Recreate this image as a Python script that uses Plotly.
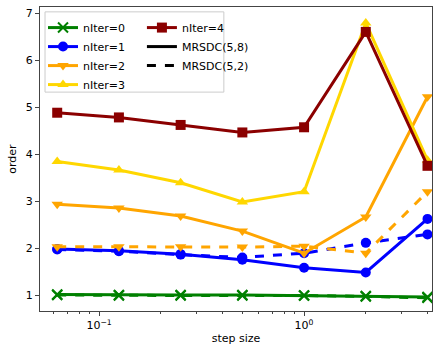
import plotly.graph_objects as go

step = [1/16, 1/8, 1/4, 1/2, 1, 2, 4]

# MRSDC(5,8) solid
n0_s = [1.01, 1.00, 1.00, 1.00, 0.99, 0.98, 0.96]
n1_s = [1.98, 1.94, 1.87, 1.75, 1.58, 1.48, 2.62]
n2_s = [2.93, 2.85, 2.68, 2.36, 1.89, 2.66, 5.22]
n3_s = [3.84, 3.66, 3.39, 2.98, 3.20, 6.79, 3.87]
n4_s = [4.88, 4.78, 4.62, 4.46, 4.57, 6.60, 3.75]
# MRSDC(5,2) dashed
n0_d = [1.00, 0.99, 0.99, 0.99, 0.99, 0.97, 0.94]
n1_d = [1.97, 1.93, 1.86, 1.80, 1.89, 2.11, 2.29]
n2_d = [2.03, 2.03, 2.03, 2.02, 2.04, 1.89, 3.20]

names = ["nIter=0", "nIter=1", "nIter=2", "nIter=3", "nIter=4"]
colors = ["green", "#0000ff", "#ffa500", "#ffd700", "#8b0000"]
symbols = ["x-thin", "circle", "triangle-down", "triangle-up", "square"]
solid = [n0_s, n1_s, n2_s, n3_s, n4_s]
dashed = [n0_d, n1_d, n2_d, None, None]

fig = go.Figure()
for i in range(5):
    mk = dict(symbol=symbols[i], size=10, color=colors[i],
              line=dict(color=colors[i], width=2 if i == 0 else 0))
    fig.add_trace(go.Scatter(x=step, y=solid[i], mode="lines+markers", name=names[i],
                             line=dict(color=colors[i], width=3), marker=mk,
                             legend="legend" if i < 4 else "legend2"))
    if dashed[i] is not None:
        fig.add_trace(go.Scatter(x=step, y=dashed[i], mode="lines+markers", showlegend=False,
                                 line=dict(color=colors[i], width=3, dash="dash"), marker=mk))

fig.add_trace(go.Scatter(x=[None], y=[None], mode="lines", name="MRSDC(5,8)",
                         line=dict(color="black", width=3), legend="legend2"))
fig.add_trace(go.Scatter(x=[None], y=[None], mode="lines", name="MRSDC(5,2)",
                         line=dict(color="black", width=3, dash="dash"), legend="legend2"))

font = dict(family="DejaVu Sans", size=11, color="black")
fig.add_shape(type="rect", xref="paper", yref="paper", x0=0.0128, x1=0.469, y0=0.72, y1=0.984,
              line=dict(color="#cccccc", width=1), fillcolor="rgba(255,255,255,0.8)", layer="above")

fig.update_layout(
    width=436, height=345,
    margin=dict(l=40, r=4, t=7, b=34),
    paper_bgcolor="white", plot_bgcolor="white",
    font=font,
    legend=dict(x=0.0077, y=0.98, xanchor="left", yanchor="top", bgcolor="rgba(0,0,0,0)",
                font=font, tracegroupgap=0),
    legend2=dict(x=0.26, y=0.98, xanchor="left", yanchor="top", bgcolor="rgba(0,0,0,0)",
                 font=font, tracegroupgap=0),
    xaxis=dict(type="log", range=[-1.288, 0.624], showgrid=False, zeroline=False,
               showline=True, linecolor="#444", linewidth=1, mirror=True, automargin=False,
               ticks="outside", ticklen=4, tickcolor="#444",
               tickvals=[0.1, 1], ticktext=["10<sup>−1</sup>", "10<sup>0</sup>"],
               minor=dict(tickvals=[0.06, 0.07, 0.08, 0.09, 0.2, 0.3, 0.4, 0.5, 0.6, 0.7, 0.8, 0.9, 2, 3, 4],
                          ticks="outside", ticklen=2, tickcolor="#444", showgrid=False),
               title=dict(text="step size", font=font, standoff=14)),
    yaxis=dict(range=[0.66, 7.13], showgrid=False, zeroline=False,
               showline=True, linecolor="#444", linewidth=1, mirror=True, automargin=False,
               ticks="outside", ticklen=4, tickcolor="#444", tickvals=[1, 2, 3, 4, 5, 6, 7],
               title=dict(text="order", font=font, standoff=6)),
)

fig.write_html("out.html")
